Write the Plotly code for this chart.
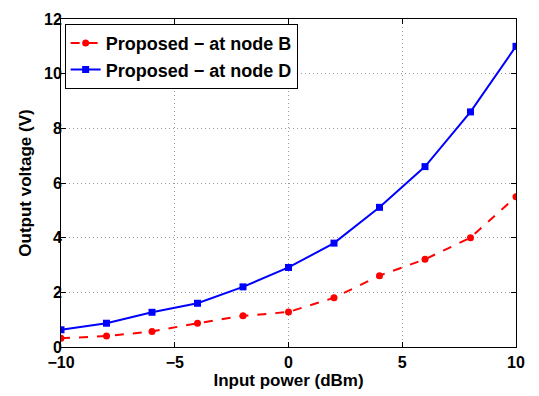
import plotly.graph_objects as go

# Input power sweep (dBm) and measured output voltages (V)
input_power = [-10, -8, -6, -4, -2, 0, 2, 4, 6, 8, 10]
node_b = [0.32, 0.40, 0.57, 0.87, 1.14, 1.28, 1.80, 2.61, 3.21, 4.0, 5.5]
node_d = [0.63, 0.87, 1.27, 1.60, 2.20, 2.91, 3.80, 5.11, 6.60, 8.6, 11.0]

x_ticks = [-10, -5, 0, 5, 10]
y_ticks = [0, 2, 4, 6, 8, 10, 12]

font_family = "Liberation Sans, Arial, sans-serif"


def bold_label(v):
    s = f"\u2212{abs(v)}" if v < 0 else str(v)
    return f"<b>{s}</b>"


fig = go.Figure()
fig.add_trace(go.Scatter(
    x=input_power, y=node_b, mode="lines+markers",
    name="<b>Proposed \u2212 at node B</b>",
    line=dict(color="#ff0000", width=2, dash="dash"),
    marker=dict(symbol="circle", size=7, color="#ff0000"),
))
fig.add_trace(go.Scatter(
    x=input_power, y=node_d, mode="lines+markers",
    name="<b>Proposed \u2212 at node D</b>",
    line=dict(color="#0000ff", width=2),
    marker=dict(symbol="square", size=7, color="#0000ff"),
))

axis_common = dict(
    showline=True, linecolor="black", linewidth=1, mirror="ticks",
    ticks="inside", ticklen=5, tickcolor="black",
    showgrid=True, gridcolor="#9a9a9a", griddash="1px,3px", gridwidth=1,
    zeroline=False,
    tickfont=dict(family=font_family, size=16, color="black"),
)

fig.update_xaxes(
    range=[-10, 10], tickvals=x_ticks,
    ticktext=[bold_label(v) for v in x_ticks],
    ticklabelstandoff=1,
    title=dict(text="<b>Input power (dBm)</b>", standoff=2,
               font=dict(family=font_family, size=17, color="black")),
    **axis_common,
)
fig.update_yaxes(
    range=[0, 12], tickvals=y_ticks,
    ticktext=[bold_label(v) for v in y_ticks],
    ticklabelstandoff=-5,
    title=dict(text="<b>Output voltage (V)</b>", standoff=8,
               font=dict(family=font_family, size=17, color="black")),
    **axis_common,
)

fig.update_layout(
    width=539, height=396,
    margin=dict(l=61, r=23, t=11, b=48),
    paper_bgcolor="white", plot_bgcolor="white",
    font=dict(family=font_family, color="black"),
    legend=dict(
        x=0.008, y=0.985, xanchor="left", yanchor="top",
        bgcolor="white", bordercolor="black", borderwidth=1,
        font=dict(family=font_family, size=18, color="black"),
        tracegroupgap=0, itemwidth=30,
    ),
    showlegend=True,
)

fig.write_html("out.html")
